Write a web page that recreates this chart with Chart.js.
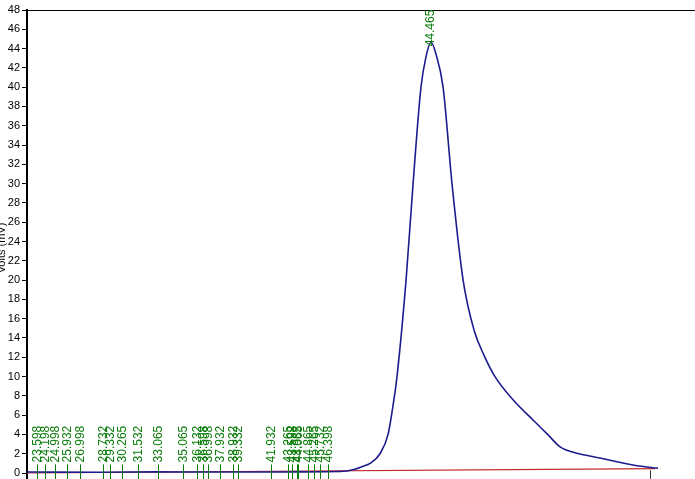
<!DOCTYPE html>
<html>
<head>
<meta charset="utf-8">
<script src="https://cdn.jsdelivr.net/npm/chart.js@4/dist/chart.umd.min.js"></script>
<style>
  body { margin: 0; background: #fff; }
  #wrap { width: 695px; height: 479px; overflow: hidden; }
</style>
</head>
<body>
<div id="wrap"><canvas id="chrom" width="695" height="479"></canvas></div>
<script>
// signal trace (time in min, mV)
let traceTimes = [22.81, 28.5, 33.0, 36.4, 40.0, 44.2, 47.34, 48.51, 49.14, 49.69, 50.47, 51.10, 51.49, 51.80, 52.51, 53.06, 53.68, 54.08, 54.47,
  54.86, 55.41, 56.11, 56.98, 57.84, 58.62, 59.48, 60.89, 62.46, 63.60, 64.58, 65.12, 65.90, 67.71, 70.30, 71.86, 72.26];
let traceValues = [0.1, 0.08, 0.12, 0.1, 0.1, 0.12, 0.15, 0.4, 0.7, 1.0, 2.0, 4.0, 7.0, 10.0, 20.0, 30.0, 40.0, 43.2, 44.65,
  43.4, 40.0, 30.0, 20.0, 14.8, 12.2, 10.0, 7.6, 5.5, 4.0, 2.7, 2.35, 2.05, 1.55, 0.83, 0.55, 0.5];

// baseline
let baseTimes = [22.81, 72.02];
let baseValues = [0.0, 0.45];

// small peak marks along the baseline
let markLabels = ["23.598", "24.198", "24.998", "25.932", "26.998", "28.732", "29.332", "30.265", "31.532", "33.065",
  "35.065", "36.132", "36.598", "36.998", "37.932", "38.932", "39.332", "41.932", "43.265", "43.598", "43.932",
  "44.065", "44.865", "45.265", "45.732", "46.398"];
let markTimes = markLabels.map(Number);

// main peak
let peakLabel = "44.465";
let peakTime = 54.47;
let peakValue = 44.65;
let peakEnd = 71.63;

let yTicks = [0, 2, 4, 6, 8, 10, 12, 14, 16, 18, 20, 22, 24, 26, 28, 30, 32, 34, 36, 38, 40, 42, 44, 46, 48];
let yTitle = "Volts (mV)";

let green = "#0a7d0a";

let marksPlugin = {
  id: "marks",
  afterDatasetsDraw(chart) {
    let ctx = chart.ctx;
    let xs = chart.scales.x, ys = chart.scales.y;
    let area = chart.chartArea;
    ctx.save();
    // top frame line
    ctx.strokeStyle = "#000";
    ctx.lineWidth = 1;
    ctx.beginPath();
    ctx.moveTo(area.left, area.top + 0.5);
    ctx.lineTo(area.right, area.top + 0.5);
    ctx.stroke();

    ctx.font = "12px 'Liberation Sans', Arial, sans-serif";
    ctx.fillStyle = green;
    ctx.strokeStyle = green;
    ctx.textBaseline = "middle";
    ctx.textAlign = "left";
    markTimes.forEach((t, i) => {
      let px = Math.round(xs.getPixelForValue(t)) + 0.5;
      ctx.beginPath();
      ctx.moveTo(px, ys.getPixelForValue(0.9));
      ctx.lineTo(px, ys.getPixelForValue(-0.62));
      ctx.stroke();
      ctx.save();
      ctx.translate(px, ys.getPixelForValue(1.1));
      ctx.rotate(-Math.PI / 2);
      ctx.fillText(markLabels[i], 0, 0);
      ctx.restore();
    });

    // peak label
    let ppx = xs.getPixelForValue(peakTime);
    ctx.save();
    ctx.translate(ppx, ys.getPixelForValue(peakValue) + 4);
    ctx.rotate(-Math.PI / 2);
    ctx.fillText(peakLabel, 0, 0);
    ctx.restore();

    // peak end mark
    let ex = Math.round(xs.getPixelForValue(peakEnd)) + 0.5;
    ctx.strokeStyle = "#333";
    ctx.beginPath();
    ctx.moveTo(ex, ys.getPixelForValue(0.3));
    ctx.lineTo(ex, ys.getPixelForValue(-0.6));
    ctx.stroke();

    // y axis title, partly off the left edge
    ctx.font = "11px 'Liberation Sans', Arial, sans-serif";
    ctx.fillStyle = "#000";
    ctx.textAlign = "center";
    ctx.save();
    ctx.translate(2, 248);
    ctx.rotate(-Math.PI / 2);
    ctx.fillText(yTitle, 0, 0);
    ctx.restore();
    ctx.restore();
  }
};

new Chart(document.getElementById("chrom"), {
  type: "line",
  data: {
    datasets: [
      {
        data: traceTimes.map((t, i) => ({ x: t, y: traceValues[i] })),
        borderColor: "#1c1c8e",
        borderWidth: 1.6,
        pointRadius: 0,
        cubicInterpolationMode: "monotone"
      },
      {
        data: baseTimes.map((t, i) => ({ x: t, y: baseValues[i] })),
        borderColor: "#c0282a",
        borderWidth: 1.2,
        pointRadius: 0
      }
    ]
  },
  options: {
    responsive: false,
    animation: false,
    layout: { autoPadding: false, padding: { top: 10, left: 0, right: 0, bottom: 0 } },
    plugins: { legend: { display: false }, tooltip: { enabled: false } },
    scales: {
      x: {
        type: "linear",
        display: false,
        min: 22.81,
        max: 75.15
      },
      y: {
        min: -0.62,
        max: 48,
        afterBuildTicks(axis) {
          axis.ticks = yTicks.map(v => ({ value: v }));
        },
        afterFit(axis) {
          axis.width = 27;
          axis.paddingTop = 0;
          axis.paddingBottom = 0;
        },
        border: { display: true, color: "#000", width: 2 },
        grid: { drawOnChartArea: false, drawTicks: true, tickLength: 5, color: "#000" },
        ticks: {
          color: "#000",
          padding: 2,
          font: { family: "'Liberation Sans', Arial, sans-serif", size: 11, lineHeight: 0.2 }
        }
      }
    }
  },
  plugins: [marksPlugin]
});
</script>
</body>
</html>
